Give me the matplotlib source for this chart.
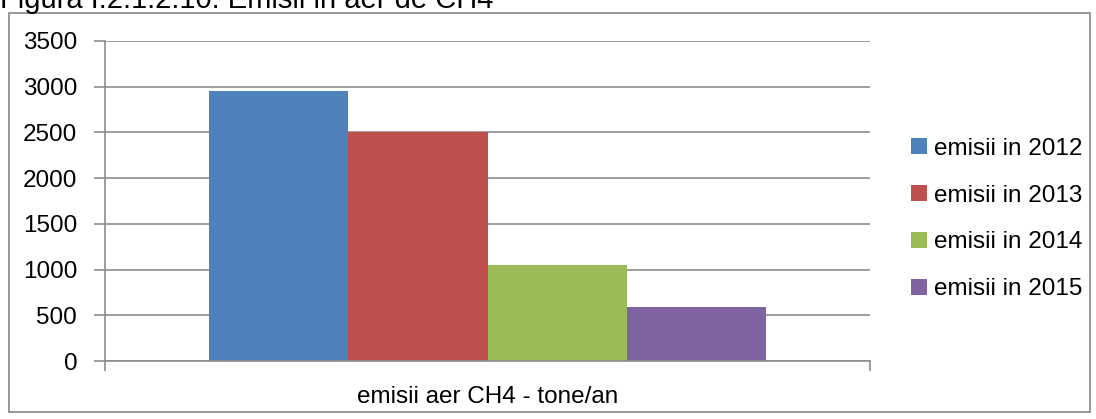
import matplotlib.pyplot as plt
from matplotlib.patches import Rectangle

plt.rcParams['font.family'] = ['Liberation Sans', 'DejaVu Sans']

## Data
category = "emisii aer CH4 - tone/an"
series = ["emisii in 2012", "emisii in 2013", "emisii in 2014", "emisii in 2015"]
values = [2950, 2510, 1045, 595]
colors = ["#4F81BD", "#C0504D", "#9BBB59", "#8064A2"]

fig = plt.figure(figsize=(10.96, 4.19), dpi=100)
ax = fig.add_axes([105/1096, 1 - 361/419, 765/1096, 320/419])

## Outer chart border
fig.patches.append(Rectangle((9/1096, 1 - 412/419), 1081/1096, 399/419,
                             transform=fig.transFigure, fill=False,
                             edgecolor="#868686", linewidth=1.2))

## Cut-off caption above the chart
fig.text(0.0, 1 - 8/419, "Figura I.2.1.2.10. Emisii in aer de CH4",
         fontsize=21, va='baseline', ha='left', color='black')

width = 0.182
n = len(values)
for i, (lab, v, c) in enumerate(zip(series, values, colors)):
    x = (i - (n - 1) / 2) * width
    ax.bar(x, v, width=width, color=c, label=lab, zorder=2)

ax.set_xlim(-0.5, 0.5)
ax.set_ylim(0, 3500)
ax.set_yticks(range(0, 3501, 500))
ax.yaxis.grid(True, color="#8c8c8c", linewidth=1.2, zorder=0)
ax.set_axisbelow(True)

fs = 17.5
ax.set_xticks([0], labels=[category])
ax.set_xticks([-0.5, 0.5], minor=True)
ax.tick_params(axis='x', which='major', length=0, pad=18, labelsize=fs)
ax.tick_params(axis='x', which='minor', length=7, color="#8c8c8c", width=1.2)
ax.tick_params(axis='y', length=8, color="#8c8c8c", width=1.2, labelsize=fs, pad=12)

for s in ['top', 'right']:
    ax.spines[s].set_visible(False)
for s in ['left', 'bottom']:
    ax.spines[s].set_color("#8c8c8c")
    ax.spines[s].set_linewidth(1.2)

ax.legend(loc='center left', bbox_to_anchor=(911/1096, 1 - 219/419),
          bbox_transform=fig.transFigure, frameon=False, fontsize=fs,
          handlelength=0.65, handleheight=0.65, handletextpad=0.3,
          labelspacing=1.02, borderpad=0, borderaxespad=0)

fig.savefig("out.png", dpi=100)
